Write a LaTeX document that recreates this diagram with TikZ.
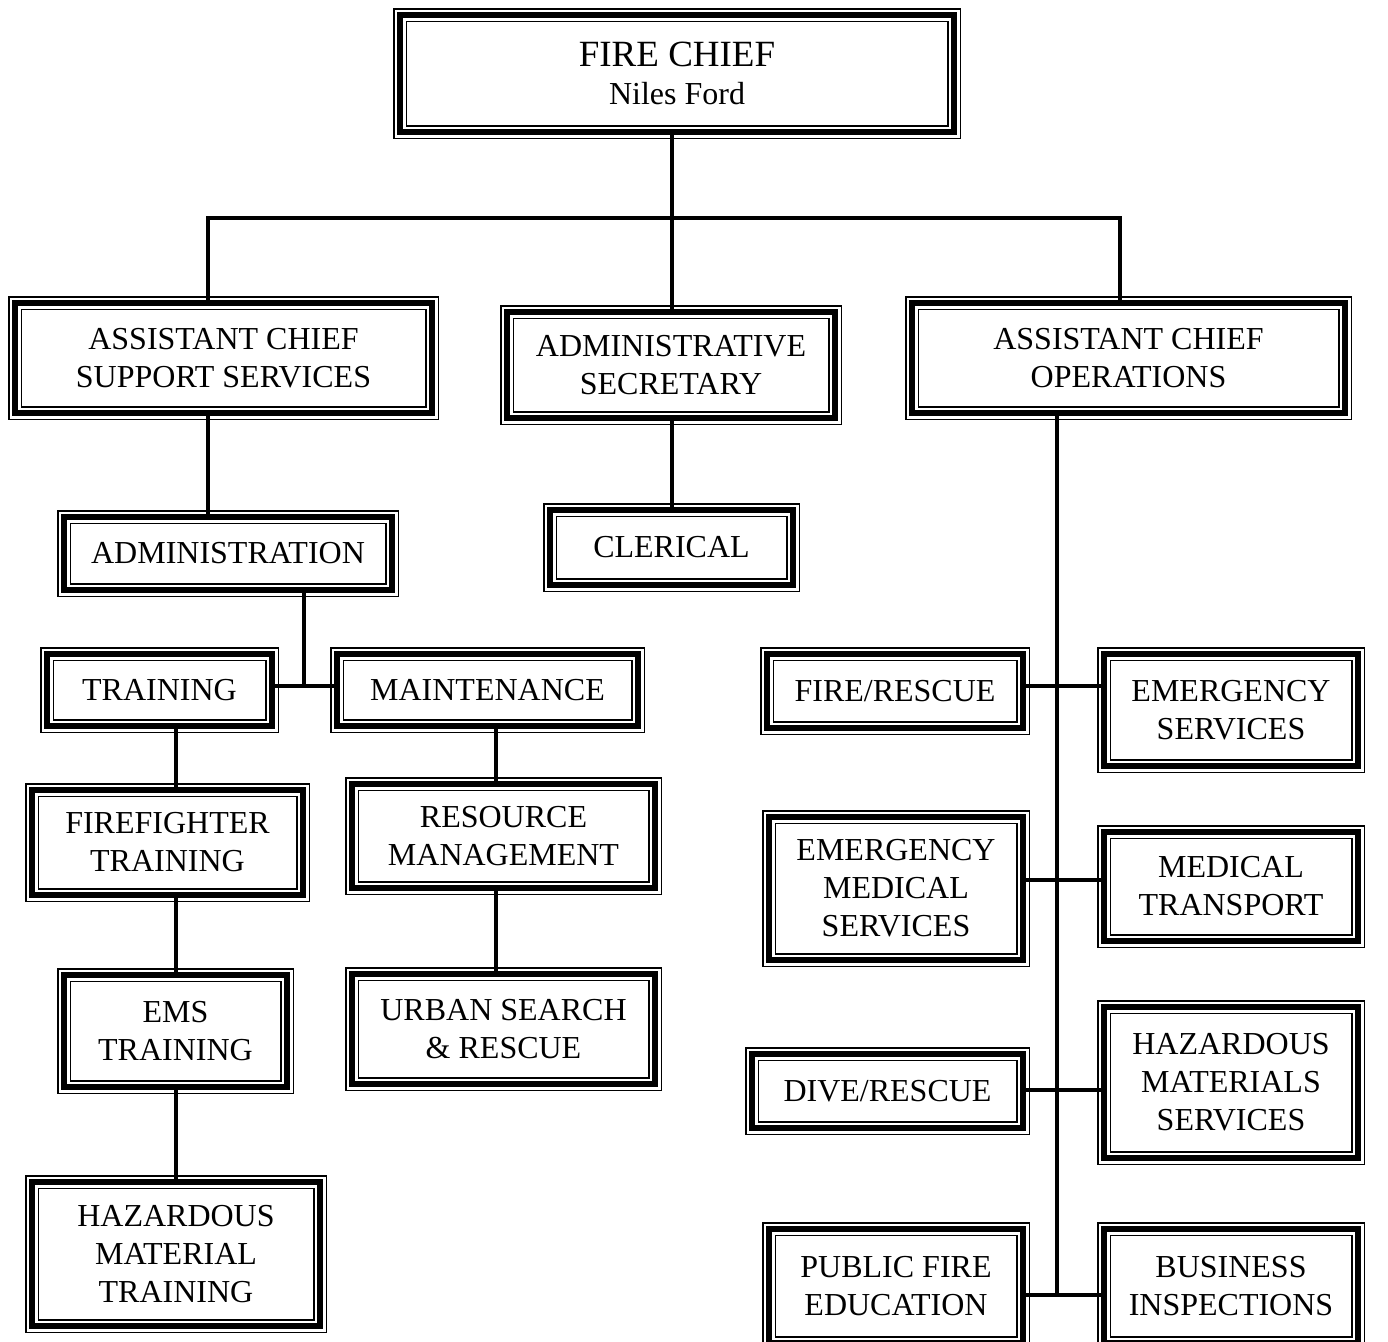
\documentclass[tikz,border=0pt]{standalone}
\usepackage{fontspec}
\setmainfont{Liberation Serif}
\begin{document}
\begin{tikzpicture}[x=1pt,y=-1pt,
  box/.style={rectangle, inner sep=0pt, align=center,
    font=\fontsize{32}{38}\selectfont,
    preaction={fill=white, draw=black, line width=14pt},
    preaction={draw=white, line width=11pt},
    draw=black, line width=5.5pt, line join=miter},
  link/.style={draw=black, line width=3.5pt, line join=miter}]
\useasboundingbox (0,0) rectangle (1388,1341);
\clip (0,0) rectangle (1388,1341);

% nodes
\node[box, minimum width=554pt, minimum height=117pt] (chief) at (677,73.5)
  {{\fontsize{37}{41}\selectfont FIRE CHIEF}\\Niles Ford};
\node[box, minimum width=417pt, minimum height=110pt] (acss) at (223.5,358)
  {ASSISTANT CHIEF\\SUPPORT SERVICES};
\node[box, minimum width=328pt, minimum height=106pt] (sec) at (671,365)
  {ADMINISTRATIVE\\SECRETARY};
\node[box, minimum width=433pt, minimum height=110pt] (acops) at (1128.5,358)
  {ASSISTANT CHIEF\\OPERATIONS};
\node[box, minimum width=328pt, minimum height=73pt] (admin) at (228,553.5)
  {ADMINISTRATION};
\node[box, minimum width=243pt, minimum height=75pt] (cler) at (671.5,547.5)
  {CLERICAL};
\node[box, minimum width=225pt, minimum height=72pt] (train) at (159.5,690)
  {TRAINING};
\node[box, minimum width=301pt, minimum height=72pt] (maint) at (487.5,690)
  {MAINTENANCE};
\node[box, minimum width=271pt, minimum height=105pt] (fft) at (167.5,842.5)
  {FIREFIGHTER\\TRAINING};
\node[box, minimum width=223pt, minimum height=112pt] (ems) at (175.5,1031)
  {EMS\\TRAINING};
\node[box, minimum width=288pt, minimum height=144pt] (haz) at (176,1254)
  {HAZARDOUS\\MATERIAL\\TRAINING};
\node[box, minimum width=303pt, minimum height=104pt] (res) at (503.5,836)
  {RESOURCE\\MANAGEMENT};
\node[box, minimum width=303pt, minimum height=110pt] (usr) at (503.5,1029)
  {URBAN SEARCH\\\& RESCUE};
\node[box, minimum width=256pt, minimum height=74pt] (fire) at (895,691)
  {FIRE/RESCUE};
\node[box, minimum width=254pt, minimum height=112pt] (emsv) at (1231,710)
  {EMERGENCY\\SERVICES};
\node[box, minimum width=254pt, minimum height=143pt] (emed) at (896,888.5)
  {EMERGENCY\\MEDICAL\\SERVICES};
\node[box, minimum width=254pt, minimum height=109pt] (medt) at (1231,886.5)
  {MEDICAL\\TRANSPORT};
\node[box, minimum width=271pt, minimum height=74pt] (dive) at (887.5,1091)
  {DIVE/RESCUE};
\node[box, minimum width=254pt, minimum height=151pt] (hazm) at (1231,1082.5)
  {HAZARDOUS\\MATERIALS\\SERVICES};
\node[box, minimum width=254pt, minimum height=114pt] (pub) at (896,1286)
  {PUBLIC FIRE\\EDUCATION};
\node[box, minimum width=254pt, minimum height=114pt] (bus) at (1231,1286)
  {BUSINESS\\INSPECTIONS};

% coordinates
\coordinate (t)  at (672,218);
\coordinate (tl) at (208,218);
\coordinate (tr) at (1120,218);
\coordinate (am) at (304,686);
\coordinate (c1) at (176,0);
\coordinate (c2) at (496,0);
\coordinate (s1) at (1057,686);
\coordinate (s2) at (1057,880);
\coordinate (s3) at (1057,1090);
\coordinate (s4) at (1057,1295);

% connectors
\draw[link] (chief.south -| t) -- (t);
\draw[link] (acss.north -| tl) -- (tl) -- (tr) -- (acops.north -| tr);
\draw[link] (t) -- (sec.north -| t);
\draw[link] (sec.south -| t) -- (cler.north -| t);
\draw[link] (acss.south -| tl) -- (admin.north -| tl);
\draw[link] (admin.south -| am) -- (am);
\draw[link] (train.east |- am) -- (maint.west |- am);
\draw[link] (train.south -| c1) -- (fft.north -| c1);
\draw[link] (fft.south -| c1) -- (ems.north -| c1);
\draw[link] (ems.south -| c1) -- (haz.north -| c1);
\draw[link] (maint.south -| c2) -- (res.north -| c2);
\draw[link] (res.south -| c2) -- (usr.north -| c2);
\draw[link] (acops.south -| s4) -- (s4);
\draw[link] (fire.east |- s1) -- (emsv.west |- s1);
\draw[link] (emed.east |- s2) -- (medt.west |- s2);
\draw[link] (dive.east |- s3) -- (hazm.west |- s3);
\draw[link] (pub.east |- s4) -- (bus.west |- s4);
\end{tikzpicture}
\end{document}
